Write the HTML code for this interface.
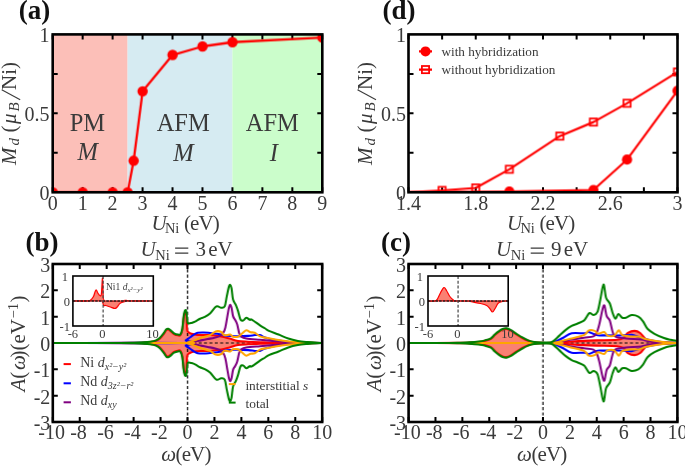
<!DOCTYPE html><html><head><meta charset="utf-8"><style>html,body{margin:0;padding:0;background:#fff;}svg{display:block;will-change:transform;}</style></head><body>
<svg width="685" height="467" viewBox="0 0 685 467">
<rect x="52.7" y="34.4" width="74.89" height="157.9" fill="#fcbfb8"/>
<rect x="127.59" y="34.4" width="104.84" height="157.9" fill="#d6ebf2"/>
<rect x="232.43" y="34.4" width="89.87" height="157.9" fill="#cbfdcb"/>
<path d="M52.7,192.3v-5M52.7,34.4v5M82.66,192.3v-5M82.66,34.4v5M112.61,192.3v-5M112.61,34.4v5M142.57,192.3v-5M142.57,34.4v5M172.52,192.3v-5M172.52,34.4v5M202.48,192.3v-5M202.48,34.4v5M232.43,192.3v-5M232.43,34.4v5M262.39,192.3v-5M262.39,34.4v5M292.34,192.3v-5M292.34,34.4v5M322.3,192.3v-5M322.3,34.4v5M52.7,152.83h5M322.3,152.83h-5M52.7,113.35h5M322.3,113.35h-5M52.7,73.88h5M322.3,73.88h-5" stroke="#000" stroke-width="2.0" fill="none"/>
<svg x="52.7" y="34.4" width="269.6" height="157.9" overflow="hidden">
<g transform="translate(-52.7,-34.4)">
<polyline points="52.7,192.3 82.66,192.3 112.61,192.3 127.59,192.3 133.58,160.72 142.57,91.24 172.52,54.93 202.48,46.4 232.43,42.14 322.3,37.56" fill="none" stroke="#f00" stroke-width="2.3" stroke-linejoin="round"/>
<circle cx="52.7" cy="192.3" r="5.2" fill="#f00"/>
<circle cx="82.66" cy="192.3" r="5.2" fill="#f00"/>
<circle cx="112.61" cy="192.3" r="5.2" fill="#f00"/>
<circle cx="127.59" cy="192.3" r="5.2" fill="#f00"/>
<circle cx="133.58" cy="160.72" r="5.2" fill="#f00"/>
<circle cx="142.57" cy="91.24" r="5.2" fill="#f00"/>
<circle cx="172.52" cy="54.93" r="5.2" fill="#f00"/>
<circle cx="202.48" cy="46.4" r="5.2" fill="#f00"/>
<circle cx="232.43" cy="42.14" r="5.2" fill="#f00"/>
<circle cx="322.3" cy="37.56" r="5.2" fill="#f00"/>
</g></svg>
<rect x="52.7" y="34.4" width="269.6" height="157.9" fill="none" stroke="#000" stroke-width="2.6"/>
<text x="52.7" y="209.7" font-size="20" text-anchor="middle" fill="#3a3a3a" font-family='"Liberation Serif", serif' >0</text>
<text x="82.66" y="209.7" font-size="20" text-anchor="middle" fill="#3a3a3a" font-family='"Liberation Serif", serif' >1</text>
<text x="112.61" y="209.7" font-size="20" text-anchor="middle" fill="#3a3a3a" font-family='"Liberation Serif", serif' >2</text>
<text x="142.57" y="209.7" font-size="20" text-anchor="middle" fill="#3a3a3a" font-family='"Liberation Serif", serif' >3</text>
<text x="172.52" y="209.7" font-size="20" text-anchor="middle" fill="#3a3a3a" font-family='"Liberation Serif", serif' >4</text>
<text x="202.48" y="209.7" font-size="20" text-anchor="middle" fill="#3a3a3a" font-family='"Liberation Serif", serif' >5</text>
<text x="232.43" y="209.7" font-size="20" text-anchor="middle" fill="#3a3a3a" font-family='"Liberation Serif", serif' >6</text>
<text x="262.39" y="209.7" font-size="20" text-anchor="middle" fill="#3a3a3a" font-family='"Liberation Serif", serif' >7</text>
<text x="292.34" y="209.7" font-size="20" text-anchor="middle" fill="#3a3a3a" font-family='"Liberation Serif", serif' >8</text>
<text x="322.3" y="209.7" font-size="20" text-anchor="middle" fill="#3a3a3a" font-family='"Liberation Serif", serif' >9</text>
<text x="49.5" y="200.3" font-size="20" text-anchor="end" fill="#3a3a3a" font-family='"Liberation Serif", serif' >0</text>
<text x="49.5" y="121.35" font-size="20" text-anchor="end" fill="#3a3a3a" font-family='"Liberation Serif", serif' >0.5</text>
<text x="49.5" y="42.4" font-size="20" text-anchor="end" fill="#3a3a3a" font-family='"Liberation Serif", serif' >1</text>
<text x="87.4" y="130.8" font-size="24.5" text-anchor="middle" fill="#3a3a3a" font-family='"Liberation Serif", serif' >PM</text>
<text x="87.6" y="160.4" font-size="24.5" text-anchor="middle" fill="#3a3a3a" font-family='"Liberation Serif", serif' font-style="italic">M</text>
<text x="183.2" y="130.8" font-size="24.5" text-anchor="middle" fill="#3a3a3a" font-family='"Liberation Serif", serif' >AFM</text>
<text x="183.4" y="160.6" font-size="24.5" text-anchor="middle" fill="#3a3a3a" font-family='"Liberation Serif", serif' font-style="italic">M</text>
<text x="272.3" y="130.8" font-size="24.5" text-anchor="middle" fill="#3a3a3a" font-family='"Liberation Serif", serif' >AFM</text>
<text x="273.9" y="160.6" font-size="24.5" text-anchor="middle" fill="#3a3a3a" font-family='"Liberation Serif", serif' font-style="italic">I</text>
<text x="151.5" y="230.2" font-size="21" text-anchor="start" fill="#3a3a3a" font-family='"Liberation Serif", serif' font-style="italic">U</text>
<text x="164.9" y="233.4" font-size="14.5" text-anchor="start" fill="#3a3a3a" font-family='"Liberation Serif", serif' >Ni</text>
<text x="184" y="230.2" font-size="21" text-anchor="start" fill="#3a3a3a" font-family='"Liberation Serif", serif' ><tspan letter-spacing="-0.9">(eV</tspan>)</text>
<g transform="translate(16.3,0) rotate(-90)" fill="#3a3a3a" font-family='"Liberation Serif", serif'>
<text x="-165" y="0" font-size="21" font-style="italic">M</text>
<text x="-145.5" y="2.6" font-size="15" font-style="italic">d</text>
<text x="-132.6" y="0" font-size="21">(</text>
<text x="-124" y="0" font-size="21" font-style="italic">μ</text>
<text x="-111.6" y="2.6" font-size="15" font-style="italic">B</text>
<text x="-90" y="0" font-size="21">Ni)</text>
</g>
<path d="M20.2,99.8L1.7,89.7" stroke="#3a3a3a" stroke-width="1.05"/>
<text x="34.4" y="18.6" font-size="27" text-anchor="middle" fill="#111" font-family='"Liberation Serif", serif' font-weight="bold">(a)</text>
<path d="M408.5,192.3v-5M408.5,34.4v5M442.12,192.3v-5M442.12,34.4v5M475.75,192.3v-5M475.75,34.4v5M509.38,192.3v-5M509.38,34.4v5M543,192.3v-5M543,34.4v5M576.62,192.3v-5M576.62,34.4v5M610.25,192.3v-5M610.25,34.4v5M643.88,192.3v-5M643.88,34.4v5M677.5,192.3v-5M677.5,34.4v5M408.5,152.83h5M677.5,152.83h-5M408.5,113.35h5M677.5,113.35h-5M408.5,73.88h5M677.5,73.88h-5" stroke="#000" stroke-width="2.0" fill="none"/>
<svg x="408.5" y="34.4" width="269" height="157.9" overflow="hidden">
<g transform="translate(-408.5,-34.4)">
<polyline points="408.5,192.3 509.38,191.51 593.44,189.93 627.06,159.61 677.5,90.77" fill="none" stroke="#f00" stroke-width="2.2" stroke-linejoin="round"/>
<polyline points="408.5,192.3 442.12,190.41 475.75,187.88 509.38,169.25 559.81,136.09 593.44,122.03 627.06,103.24 677.5,71.98" fill="none" stroke="#f00" stroke-width="2.2" stroke-linejoin="round"/>
<circle cx="509.38" cy="191.51" r="5.1" fill="#f00"/>
<circle cx="593.44" cy="189.93" r="5.1" fill="#f00"/>
<circle cx="627.06" cy="159.61" r="5.1" fill="#f00"/>
<circle cx="677.5" cy="90.77" r="5.1" fill="#f00"/>
<rect x="438.52" y="186.81" width="7.2" height="7.2" fill="none" stroke="#f00" stroke-width="1.75"/>
<rect x="472.15" y="184.28" width="7.2" height="7.2" fill="none" stroke="#f00" stroke-width="1.75"/>
<rect x="505.77" y="165.65" width="7.2" height="7.2" fill="none" stroke="#f00" stroke-width="1.75"/>
<rect x="556.21" y="132.49" width="7.2" height="7.2" fill="none" stroke="#f00" stroke-width="1.75"/>
<rect x="589.84" y="118.43" width="7.2" height="7.2" fill="none" stroke="#f00" stroke-width="1.75"/>
<rect x="623.46" y="99.64" width="7.2" height="7.2" fill="none" stroke="#f00" stroke-width="1.75"/>
<rect x="673.9" y="68.38" width="7.2" height="7.2" fill="none" stroke="#f00" stroke-width="1.75"/>
</g></svg>
<rect x="408.5" y="34.4" width="269" height="157.9" fill="none" stroke="#000" stroke-width="2.6"/>
<text x="408.5" y="209.7" font-size="20" text-anchor="middle" fill="#3a3a3a" font-family='"Liberation Serif", serif' >1.4</text>
<text x="475.75" y="209.7" font-size="20" text-anchor="middle" fill="#3a3a3a" font-family='"Liberation Serif", serif' >1.8</text>
<text x="543" y="209.7" font-size="20" text-anchor="middle" fill="#3a3a3a" font-family='"Liberation Serif", serif' >2.2</text>
<text x="610.25" y="209.7" font-size="20" text-anchor="middle" fill="#3a3a3a" font-family='"Liberation Serif", serif' >2.6</text>
<text x="677.5" y="209.7" font-size="20" text-anchor="middle" fill="#3a3a3a" font-family='"Liberation Serif", serif' >3</text>
<text x="406" y="200.3" font-size="20" text-anchor="end" fill="#3a3a3a" font-family='"Liberation Serif", serif' >0</text>
<text x="406" y="121.35" font-size="20" text-anchor="end" fill="#3a3a3a" font-family='"Liberation Serif", serif' >0.5</text>
<text x="406" y="42.4" font-size="20" text-anchor="end" fill="#3a3a3a" font-family='"Liberation Serif", serif' >1</text>
<path d="M419,51.4h13M419,69.6h13" stroke="#f00" stroke-width="2.2"/>
<circle cx="425.5" cy="51.4" r="5" fill="#f00"/>
<rect x="421.9" y="66" width="7.2" height="7.2" fill="none" stroke="#f00" stroke-width="1.75"/>
<text x="441.5" y="55.6" font-size="13.2" text-anchor="start" fill="#3a3a3a" font-family='"Liberation Serif", serif' >with hybridization</text>
<text x="441.5" y="73.6" font-size="13.2" text-anchor="start" fill="#3a3a3a" font-family='"Liberation Serif", serif' >without hybridization</text>
<text x="507" y="230.2" font-size="21" text-anchor="start" fill="#3a3a3a" font-family='"Liberation Serif", serif' font-style="italic">U</text>
<text x="520.4" y="233.4" font-size="14.5" text-anchor="start" fill="#3a3a3a" font-family='"Liberation Serif", serif' >Ni</text>
<text x="539.5" y="230.2" font-size="21" text-anchor="start" fill="#3a3a3a" font-family='"Liberation Serif", serif' ><tspan letter-spacing="-0.9">(eV</tspan>)</text>
<g transform="translate(372.1,0) rotate(-90)" fill="#3a3a3a" font-family='"Liberation Serif", serif'>
<text x="-165" y="0" font-size="21" font-style="italic">M</text>
<text x="-145.5" y="2.6" font-size="15" font-style="italic">d</text>
<text x="-132.6" y="0" font-size="21">(</text>
<text x="-124" y="0" font-size="21" font-style="italic">μ</text>
<text x="-111.6" y="2.6" font-size="15" font-style="italic">B</text>
<text x="-90" y="0" font-size="21">Ni)</text>
</g>
<path d="M376,99.8L357.5,89.7" stroke="#3a3a3a" stroke-width="1.05"/>
<text x="398.9" y="18.6" font-size="27" text-anchor="middle" fill="#111" font-family='"Liberation Serif", serif' font-weight="bold">(d)</text>
<path d="M52.8,422v-5M52.8,264v5M79.74,422v-5M79.74,264v5M106.68,422v-5M106.68,264v5M133.62,422v-5M133.62,264v5M160.56,422v-5M160.56,264v5M187.5,422v-5M187.5,264v5M214.44,422v-5M214.44,264v5M241.38,422v-5M241.38,264v5M268.32,422v-5M268.32,264v5M295.26,422v-5M295.26,264v5M322.2,422v-5M322.2,264v5M52.8,422h5M322.2,422h-5M52.8,395.67h5M322.2,395.67h-5M52.8,369.33h5M322.2,369.33h-5M52.8,343h5M322.2,343h-5M52.8,316.67h5M322.2,316.67h-5M52.8,290.33h5M322.2,290.33h-5M52.8,264h5M322.2,264h-5" stroke="#000" stroke-width="2.0" fill="none"/>
<svg x="52.8" y="264" width="269.4" height="158" overflow="hidden">
<g transform="translate(-52.8,-264)">
<path d="M52.8,343C66.27,342.98 118.58,342.93 133.62,342.87C148.66,342.8 140.31,342.74 143.05,342.61C145.79,342.47 147.92,342.36 150.05,342.08C152.19,341.79 154.25,341.44 155.85,340.89C157.44,340.34 158.34,339.93 159.62,338.79C160.9,337.65 162.4,335.5 163.52,334.05C164.65,332.6 165.57,330.84 166.35,330.1C167.14,329.35 167.52,329.39 168.24,329.57C168.96,329.75 169.7,330.4 170.66,331.15C171.63,331.9 172.82,333.34 174.03,334.05C175.24,334.75 176.88,335.19 177.94,335.36C178.99,335.54 179.64,336.02 180.36,335.1C181.08,334.18 181.69,332.91 182.25,329.83C182.81,326.76 183.23,319.74 183.73,316.67C184.22,313.59 184.76,311.4 185.21,311.4C185.66,311.4 186.11,313.59 186.42,316.67C186.74,319.74 186.74,327.24 187.1,329.83C187.46,332.42 187.86,331.54 188.58,332.2C189.3,332.86 190.33,333.39 191.41,333.78C192.48,334.18 193.61,334.35 195.04,334.57C196.48,334.79 197.54,335.01 200.03,335.1C202.52,335.19 206.47,334.88 209.99,335.1C213.52,335.32 217.92,335.85 221.18,336.42C224.43,336.99 226.74,337.78 229.53,338.52C232.31,339.27 234.78,340.37 237.88,340.89C240.98,341.42 244.16,341.46 248.11,341.68C252.07,341.9 257.09,342.06 261.58,342.21C266.07,342.36 269.44,342.5 275.05,342.61C280.67,342.71 287.4,342.8 295.26,342.87C303.12,342.93 317.71,342.98 322.2,343L322.2,343C317.71,343.02 303.12,343.07 295.26,343.13C287.4,343.2 280.67,343.29 275.05,343.39C269.44,343.5 266.07,343.64 261.58,343.79C257.09,343.94 252.07,344.1 248.11,344.32C244.16,344.54 240.98,344.58 237.88,345.11C234.78,345.63 232.31,346.73 229.53,347.48C226.74,348.22 224.43,349.01 221.18,349.58C217.92,350.15 213.52,350.68 209.99,350.9C206.47,351.12 202.52,350.81 200.03,350.9C197.54,350.99 196.48,351.21 195.04,351.43C193.61,351.65 192.48,351.82 191.41,352.22C190.33,352.61 189.3,353.14 188.58,353.8C187.86,354.45 187.46,353.58 187.1,356.17C186.74,358.76 186.74,366.26 186.42,369.33C186.11,372.41 185.66,374.6 185.21,374.6C184.76,374.6 184.22,372.41 183.73,369.33C183.23,366.26 182.81,359.24 182.25,356.17C181.69,353.09 181.08,351.82 180.36,350.9C179.64,349.98 178.99,350.46 177.94,350.64C176.88,350.81 175.24,351.25 174.03,351.95C172.82,352.66 171.63,354.1 170.66,354.85C169.7,355.6 168.96,356.25 168.24,356.43C167.52,356.61 167.14,356.65 166.35,355.9C165.57,355.16 164.65,353.4 163.52,351.95C162.4,350.5 160.9,348.35 159.62,347.21C158.34,346.07 157.44,345.66 155.85,345.11C154.25,344.56 152.19,344.21 150.05,343.92C147.92,343.64 145.79,343.53 143.05,343.39C140.31,343.26 148.66,343.2 133.62,343.13C118.58,343.07 66.27,343.02 52.8,343Z" fill="#fa8072" stroke="none"/>
<path d="M52.8,343H322.2" stroke="#000" stroke-width="1.2" stroke-dasharray="3,2.4"/>
<path d="M187.5,264V422" stroke="#000" stroke-width="1.2" stroke-dasharray="3.2,2.1"/>
<path d="M52.8,343C66.27,342.98 118.58,342.93 133.62,342.87C148.66,342.8 140.31,342.74 143.05,342.61C145.79,342.47 147.92,342.36 150.05,342.08C152.19,341.79 154.25,341.44 155.85,340.89C157.44,340.34 158.34,339.93 159.62,338.79C160.9,337.65 162.4,335.5 163.52,334.05C164.65,332.6 165.57,330.84 166.35,330.1C167.14,329.35 167.52,329.39 168.24,329.57C168.96,329.75 169.7,330.4 170.66,331.15C171.63,331.9 172.82,333.34 174.03,334.05C175.24,334.75 176.88,335.19 177.94,335.36C178.99,335.54 179.64,336.02 180.36,335.1C181.08,334.18 181.69,332.91 182.25,329.83C182.81,326.76 183.23,319.74 183.73,316.67C184.22,313.59 184.76,311.4 185.21,311.4C185.66,311.4 186.11,313.59 186.42,316.67C186.74,319.74 186.74,327.24 187.1,329.83C187.46,332.42 187.86,331.54 188.58,332.2C189.3,332.86 190.33,333.39 191.41,333.78C192.48,334.18 193.61,334.35 195.04,334.57C196.48,334.79 197.54,335.01 200.03,335.1C202.52,335.19 206.47,334.88 209.99,335.1C213.52,335.32 217.92,335.85 221.18,336.42C224.43,336.99 226.74,337.78 229.53,338.52C232.31,339.27 234.78,340.37 237.88,340.89C240.98,341.42 244.16,341.46 248.11,341.68C252.07,341.9 257.09,342.06 261.58,342.21C266.07,342.36 269.44,342.5 275.05,342.61C280.67,342.71 287.4,342.8 295.26,342.87C303.12,342.93 317.71,342.98 322.2,343" fill="none" stroke="#f00" stroke-width="2.05" stroke-linejoin="round"/>
<path d="M52.8,343C66.27,343.02 118.58,343.07 133.62,343.13C148.66,343.2 140.31,343.26 143.05,343.39C145.79,343.53 147.92,343.64 150.05,343.92C152.19,344.21 154.25,344.56 155.85,345.11C157.44,345.66 158.34,346.07 159.62,347.21C160.9,348.35 162.4,350.5 163.52,351.95C164.65,353.4 165.57,355.16 166.35,355.9C167.14,356.65 167.52,356.61 168.24,356.43C168.96,356.25 169.7,355.6 170.66,354.85C171.63,354.1 172.82,352.66 174.03,351.95C175.24,351.25 176.88,350.81 177.94,350.64C178.99,350.46 179.64,349.98 180.36,350.9C181.08,351.82 181.69,353.09 182.25,356.17C182.81,359.24 183.23,366.26 183.73,369.33C184.22,372.41 184.76,374.6 185.21,374.6C185.66,374.6 186.11,372.41 186.42,369.33C186.74,366.26 186.74,358.76 187.1,356.17C187.46,353.58 187.86,354.45 188.58,353.8C189.3,353.14 190.33,352.61 191.41,352.22C192.48,351.82 193.61,351.65 195.04,351.43C196.48,351.21 197.54,350.99 200.03,350.9C202.52,350.81 206.47,351.12 209.99,350.9C213.52,350.68 217.92,350.15 221.18,349.58C224.43,349.01 226.74,348.22 229.53,347.48C232.31,346.73 234.78,345.63 237.88,345.11C240.98,344.58 244.16,344.54 248.11,344.32C252.07,344.1 257.09,343.94 261.58,343.79C266.07,343.64 269.44,343.5 275.05,343.39C280.67,343.29 287.4,343.2 295.26,343.13C303.12,343.07 317.71,343.02 322.2,343" fill="none" stroke="#f00" stroke-width="2.05" stroke-linejoin="round"/>
<path d="M52.8,343C74.58,343 161.3,343.44 183.46,343C205.62,342.56 184.63,341.33 185.75,340.37C186.87,339.4 188.78,338.22 190.19,337.21C191.61,336.2 192.98,335.06 194.24,334.31C195.49,333.56 196.17,333.04 197.74,332.73C199.31,332.42 201.62,332.42 203.66,332.47C205.71,332.51 207.75,332.77 209.99,332.99C212.24,333.21 215.27,333.52 217.13,333.78C219,334.05 219.65,334.27 221.18,334.57C222.7,334.88 224.05,335.36 226.29,335.63C228.54,335.89 231.01,336.11 234.64,336.15C238.28,336.2 244.75,336.07 248.11,335.89C251.48,335.71 252.87,335.23 254.85,335.1C256.83,334.97 258.4,334.75 259.97,335.1C261.54,335.45 261.72,336.37 264.28,337.21C266.84,338.04 271.51,339.36 275.32,340.1C279.14,340.85 282.73,341.29 287.18,341.68C291.62,342.08 297.28,342.28 302,342.47C306.71,342.67 312.1,342.78 315.46,342.87C318.83,342.96 321.08,342.98 322.2,343" fill="none" stroke="#0000ff" stroke-width="2.05" stroke-linejoin="round"/>
<path d="M52.8,343C74.58,343 161.3,342.56 183.46,343C205.62,343.44 184.63,344.67 185.75,345.63C186.87,346.6 188.78,347.78 190.19,348.79C191.61,349.8 192.98,350.94 194.24,351.69C195.49,352.44 196.17,352.96 197.74,353.27C199.31,353.58 201.62,353.58 203.66,353.53C205.71,353.49 207.75,353.23 209.99,353.01C212.24,352.79 215.27,352.48 217.13,352.22C219,351.95 219.65,351.73 221.18,351.43C222.7,351.12 224.05,350.64 226.29,350.37C228.54,350.11 231.01,349.89 234.64,349.85C238.28,349.8 244.75,349.93 248.11,350.11C251.48,350.29 252.87,350.77 254.85,350.9C256.83,351.03 258.4,351.25 259.97,350.9C261.54,350.55 261.72,349.63 264.28,348.79C266.84,347.96 271.51,346.64 275.32,345.9C279.14,345.15 282.73,344.71 287.18,344.32C291.62,343.92 297.28,343.72 302,343.53C306.71,343.33 312.1,343.22 315.46,343.13C318.83,343.04 321.08,343.02 322.2,343" fill="none" stroke="#0000ff" stroke-width="2.05" stroke-linejoin="round"/>
<path d="M52.8,343C74.58,343 161.01,343.04 183.46,343C205.91,342.96 185.7,342.96 187.5,342.74C189.3,342.52 191.99,342.08 194.24,341.68C196.48,341.29 198.72,340.81 200.97,340.37C203.21,339.93 205.46,339.49 207.7,339.05C209.95,338.61 212.49,338.22 214.44,337.73C216.39,337.25 217.96,336.94 219.42,336.15C220.88,335.36 222.21,334.44 223.2,332.99C224.18,331.55 224.65,330.27 225.35,327.46C226.05,324.65 226.79,319.39 227.37,316.14C227.95,312.89 228.38,309.86 228.85,307.98C229.32,306.09 229.75,304.82 230.2,304.82C230.65,304.82 231.08,306.09 231.55,307.98C232.02,309.86 232.44,314.16 233.03,316.14C233.61,318.12 234.35,318.42 235.05,319.83C235.75,321.23 236.51,322.28 237.2,324.57C237.9,326.85 238.55,331.5 239.22,333.52C239.9,335.54 240.08,335.85 241.25,336.68C242.41,337.51 243.11,338 246.23,338.52C249.35,339.05 255.61,339.45 259.97,339.84C264.32,340.24 267.83,340.54 272.36,340.89C276.9,341.24 282.24,341.66 287.18,341.95C292.12,342.23 297.28,342.44 302,342.61C306.71,342.77 312.1,342.86 315.46,342.92C318.83,342.99 321.08,342.99 322.2,343" fill="none" stroke="#800080" stroke-width="2.05" stroke-linejoin="round"/>
<path d="M52.8,343C74.58,343 161.01,342.96 183.46,343C205.91,343.04 185.7,343.04 187.5,343.26C189.3,343.48 191.99,343.92 194.24,344.32C196.48,344.71 198.72,345.19 200.97,345.63C203.21,346.07 205.46,346.51 207.7,346.95C209.95,347.39 212.49,347.78 214.44,348.27C216.39,348.75 217.96,349.06 219.42,349.85C220.88,350.64 222.21,351.56 223.2,353.01C224.18,354.45 224.65,355.73 225.35,358.54C226.05,361.35 226.79,366.61 227.37,369.86C227.95,373.11 228.38,376.14 228.85,378.02C229.32,379.91 229.75,381.18 230.2,381.18C230.65,381.18 231.08,379.91 231.55,378.02C232.02,376.14 232.44,371.84 233.03,369.86C233.61,367.88 234.35,367.58 235.05,366.17C235.75,364.77 236.51,363.72 237.2,361.43C237.9,359.15 238.55,354.5 239.22,352.48C239.9,350.46 240.08,350.15 241.25,349.32C242.41,348.49 243.11,348 246.23,347.48C249.35,346.95 255.61,346.55 259.97,346.16C264.32,345.76 267.83,345.46 272.36,345.11C276.9,344.76 282.24,344.34 287.18,344.05C292.12,343.77 297.28,343.56 302,343.39C306.71,343.23 312.1,343.14 315.46,343.08C318.83,343.01 321.08,343.01 322.2,343" fill="none" stroke="#800080" stroke-width="2.05" stroke-linejoin="round"/>
<path d="M52.8,343C74.58,343 161.01,343.09 183.46,343C205.91,342.91 185.7,342.91 187.5,342.47C189.3,342.03 191.99,341.16 194.24,340.37C196.48,339.58 198.34,338.61 200.97,337.73C203.6,336.86 207.55,336.15 209.99,335.1C212.44,334.05 213.77,331.94 215.65,331.41C217.54,330.89 219.94,331.33 221.31,331.94C222.68,332.55 222.88,334.57 223.87,335.1C224.86,335.63 226.18,335.19 227.24,335.1C228.29,335.01 229.23,334.31 230.2,334.57C231.17,334.84 231.75,336.33 233.03,336.68C234.31,337.03 236.37,337.21 237.88,336.68C239.38,336.15 240.66,334.57 242.05,333.52C243.45,332.47 244.81,330.58 246.23,330.36C247.64,330.14 249.13,331.81 250.54,332.2C251.95,332.6 253.14,332.03 254.72,332.73C256.29,333.43 258.15,335.58 259.97,336.42C261.79,337.25 263.07,337.21 265.63,337.73C268.19,338.26 271.73,339.01 275.32,339.58C278.92,340.15 282.73,340.72 287.18,341.16C291.62,341.6 297.28,341.92 302,342.21C306.71,342.5 312.1,342.74 315.46,342.87C318.83,343 321.08,342.98 322.2,343" fill="none" stroke="#ffa500" stroke-width="2.05" stroke-linejoin="round"/>
<path d="M52.8,343C74.58,343 161.01,342.91 183.46,343C205.91,343.09 185.7,343.09 187.5,343.53C189.3,343.97 191.99,344.84 194.24,345.63C196.48,346.42 198.34,347.39 200.97,348.27C203.6,349.14 207.55,349.85 209.99,350.9C212.44,351.95 213.77,354.06 215.65,354.59C217.54,355.11 219.94,354.67 221.31,354.06C222.68,353.45 222.88,351.43 223.87,350.9C224.86,350.37 226.18,350.81 227.24,350.9C228.29,350.99 229.23,351.69 230.2,351.43C231.17,351.16 231.75,349.67 233.03,349.32C234.31,348.97 236.37,348.79 237.88,349.32C239.38,349.85 240.66,351.43 242.05,352.48C243.45,353.53 244.81,355.42 246.23,355.64C247.64,355.86 249.13,354.19 250.54,353.8C251.95,353.4 253.14,353.97 254.72,353.27C256.29,352.57 258.15,350.42 259.97,349.58C261.79,348.75 263.07,348.79 265.63,348.27C268.19,347.74 271.73,346.99 275.32,346.42C278.92,345.85 282.73,345.28 287.18,344.84C291.62,344.4 297.28,344.08 302,343.79C306.71,343.5 312.1,343.26 315.46,343.13C318.83,343 321.08,343.02 322.2,343" fill="none" stroke="#ffa500" stroke-width="2.05" stroke-linejoin="round"/>
<path d="M52.8,343C64.02,343 106.68,343.04 120.15,343C133.62,342.96 129.8,342.9 133.62,342.79C137.44,342.68 140.31,342.53 143.05,342.34C145.79,342.16 147.92,342.01 150.05,341.68C152.19,341.35 154.25,340.98 155.85,340.37C157.44,339.75 158.34,339.18 159.62,338C160.9,336.81 162.4,334.7 163.52,333.26C164.65,331.81 165.57,330.05 166.35,329.31C167.14,328.56 167.52,328.6 168.24,328.78C168.96,328.96 169.7,329.61 170.66,330.36C171.63,331.11 172.82,332.55 174.03,333.26C175.24,333.96 176.88,334.4 177.94,334.57C178.99,334.75 179.64,335.28 180.36,334.31C181.08,333.34 181.69,331.94 182.25,328.78C182.81,325.62 183.23,318.47 183.73,315.35C184.22,312.23 184.76,310.57 185.21,310.08C185.66,309.6 186.04,310.43 186.42,312.45C186.8,314.47 187.14,320.35 187.5,322.2C187.86,324.04 187.93,323.38 188.58,323.51C189.23,323.64 190.33,323.29 191.41,322.99C192.48,322.68 193.61,322.37 195.04,321.67C196.48,320.97 198.52,319.52 200.03,318.77C201.53,318.03 202.41,318.07 204.07,317.19C205.73,316.32 207.95,315.31 209.99,313.51C212.04,311.71 214.48,307.36 216.33,306.4C218.17,305.43 219.65,307.71 221.04,307.71C222.43,307.71 223.73,308.24 224.68,306.4C225.62,304.55 226,299.9 226.7,296.65C227.39,293.41 228.27,288.88 228.85,286.91C229.44,284.93 229.75,284.54 230.2,284.8C230.65,285.07 231.08,286.03 231.55,288.49C232.02,290.95 232.31,296.79 233.03,299.55C233.75,302.31 235.05,303.24 235.86,305.08C236.67,306.92 237.09,308.15 237.88,310.61C238.66,313.07 239.65,318.2 240.57,319.83C241.49,321.45 242.46,320.7 243.4,320.35C244.34,320 245.17,317.81 246.23,317.72C247.28,317.63 248.81,319.52 249.73,319.83C250.65,320.13 250.05,318.64 251.75,319.56C253.46,320.49 257.79,323.91 259.97,325.36C262.15,326.81 263.34,327.33 264.82,328.25C266.3,329.18 266.57,329.83 268.86,330.89C271.15,331.94 275.32,333.3 278.56,334.57C281.79,335.85 285.05,337.47 288.26,338.52C291.47,339.58 294.61,340.3 297.82,340.89C301.03,341.49 304.35,341.76 307.52,342.08C310.68,342.39 314.36,342.64 316.81,342.79C319.26,342.94 321.3,342.96 322.2,343" fill="none" stroke="#008000" stroke-width="2.05" stroke-linejoin="round"/>
<path d="M52.8,343C64.02,343 106.68,342.96 120.15,343C133.62,343.04 129.8,343.1 133.62,343.21C137.44,343.32 140.31,343.47 143.05,343.66C145.79,343.84 147.92,343.99 150.05,344.32C152.19,344.65 154.25,345.02 155.85,345.63C157.44,346.25 158.34,346.82 159.62,348C160.9,349.19 162.4,351.3 163.52,352.74C164.65,354.19 165.57,355.95 166.35,356.69C167.14,357.44 167.52,357.4 168.24,357.22C168.96,357.04 169.7,356.39 170.66,355.64C171.63,354.89 172.82,353.45 174.03,352.74C175.24,352.04 176.88,351.6 177.94,351.43C178.99,351.25 179.64,350.72 180.36,351.69C181.08,352.66 181.69,354.06 182.25,357.22C182.81,360.38 183.23,367.53 183.73,370.65C184.22,373.77 184.76,375.43 185.21,375.92C185.66,376.4 186.04,375.57 186.42,373.55C186.8,371.53 187.14,365.65 187.5,363.8C187.86,361.96 187.93,362.62 188.58,362.49C189.23,362.36 190.33,362.71 191.41,363.01C192.48,363.32 193.61,363.63 195.04,364.33C196.48,365.03 198.52,366.48 200.03,367.23C201.53,367.97 202.41,367.93 204.07,368.81C205.73,369.68 207.95,370.69 209.99,372.49C212.04,374.29 214.48,378.64 216.33,379.6C218.17,380.57 219.65,378.29 221.04,378.29C222.43,378.29 223.73,377.76 224.68,379.6C225.62,381.45 226,386.1 226.7,389.35C227.39,392.59 228.27,397.12 228.85,399.09C229.44,401.06 229.75,401.46 230.2,401.2C230.65,400.93 231.08,399.97 231.55,397.51C232.02,395.05 232.31,389.21 233.03,386.45C233.75,383.69 235.05,382.76 235.86,380.92C236.67,379.08 237.09,377.85 237.88,375.39C238.66,372.93 239.65,367.8 240.57,366.17C241.49,364.55 242.46,365.3 243.4,365.65C244.34,366 245.17,368.19 246.23,368.28C247.28,368.37 248.81,366.48 249.73,366.17C250.65,365.87 250.05,367.36 251.75,366.44C253.46,365.51 257.79,362.09 259.97,360.64C262.15,359.19 263.34,358.67 264.82,357.75C266.3,356.82 266.57,356.17 268.86,355.11C271.15,354.06 275.32,352.7 278.56,351.43C281.79,350.15 285.05,348.53 288.26,347.48C291.47,346.42 294.61,345.7 297.82,345.11C301.03,344.51 304.35,344.24 307.52,343.92C310.68,343.61 314.36,343.36 316.81,343.21C319.26,343.06 321.3,343.04 322.2,343" fill="none" stroke="#008000" stroke-width="2.05" stroke-linejoin="round"/>
</g></svg>
<rect x="52.8" y="264" width="269.4" height="158" fill="none" stroke="#000" stroke-width="2.6"/>
<text x="51.6" y="439" font-size="20" text-anchor="middle" fill="#3a3a3a" font-family='"Liberation Serif", serif' >-10</text>
<text x="78.54" y="439" font-size="20" text-anchor="middle" fill="#3a3a3a" font-family='"Liberation Serif", serif' >-8</text>
<text x="105.48" y="439" font-size="20" text-anchor="middle" fill="#3a3a3a" font-family='"Liberation Serif", serif' >-6</text>
<text x="132.42" y="439" font-size="20" text-anchor="middle" fill="#3a3a3a" font-family='"Liberation Serif", serif' >-4</text>
<text x="159.36" y="439" font-size="20" text-anchor="middle" fill="#3a3a3a" font-family='"Liberation Serif", serif' >-2</text>
<text x="187.5" y="439" font-size="20" text-anchor="middle" fill="#3a3a3a" font-family='"Liberation Serif", serif' >0</text>
<text x="214.44" y="439" font-size="20" text-anchor="middle" fill="#3a3a3a" font-family='"Liberation Serif", serif' >2</text>
<text x="241.38" y="439" font-size="20" text-anchor="middle" fill="#3a3a3a" font-family='"Liberation Serif", serif' >4</text>
<text x="268.32" y="439" font-size="20" text-anchor="middle" fill="#3a3a3a" font-family='"Liberation Serif", serif' >6</text>
<text x="295.26" y="439" font-size="20" text-anchor="middle" fill="#3a3a3a" font-family='"Liberation Serif", serif' >8</text>
<text x="322.2" y="439" font-size="20" text-anchor="middle" fill="#3a3a3a" font-family='"Liberation Serif", serif' >10</text>
<text x="50.3" y="430" font-size="20" text-anchor="end" fill="#3a3a3a" font-family='"Liberation Serif", serif' >-3</text>
<text x="50.3" y="403.67" font-size="20" text-anchor="end" fill="#3a3a3a" font-family='"Liberation Serif", serif' >-2</text>
<text x="50.3" y="377.33" font-size="20" text-anchor="end" fill="#3a3a3a" font-family='"Liberation Serif", serif' >-1</text>
<text x="50.3" y="351" font-size="20" text-anchor="end" fill="#3a3a3a" font-family='"Liberation Serif", serif' >0</text>
<text x="50.3" y="324.67" font-size="20" text-anchor="end" fill="#3a3a3a" font-family='"Liberation Serif", serif' >1</text>
<text x="50.3" y="298.33" font-size="20" text-anchor="end" fill="#3a3a3a" font-family='"Liberation Serif", serif' >2</text>
<text x="50.3" y="272" font-size="20" text-anchor="end" fill="#3a3a3a" font-family='"Liberation Serif", serif' >3</text>
<text x="161.2" y="461.3" font-size="21" text-anchor="start" fill="#3a3a3a" font-family='"Liberation Serif", serif' font-style="italic">ω</text>
<text x="175.6" y="461.3" font-size="21" text-anchor="start" fill="#3a3a3a" font-family='"Liberation Serif", serif' ><tspan letter-spacing="-0.9">(eV</tspan>)</text>
<path d="M408.6,422v-5M408.6,264v5M435.48,422v-5M435.48,264v5M462.36,422v-5M462.36,264v5M489.24,422v-5M489.24,264v5M516.12,422v-5M516.12,264v5M543,422v-5M543,264v5M569.88,422v-5M569.88,264v5M596.76,422v-5M596.76,264v5M623.64,422v-5M623.64,264v5M650.52,422v-5M650.52,264v5M677.4,422v-5M677.4,264v5M408.6,422h5M677.4,422h-5M408.6,395.67h5M677.4,395.67h-5M408.6,369.33h5M677.4,369.33h-5M408.6,343h5M677.4,343h-5M408.6,316.67h5M677.4,316.67h-5M408.6,290.33h5M677.4,290.33h-5M408.6,264h5M677.4,264h-5" stroke="#000" stroke-width="2.0" fill="none"/>
<svg x="408.6" y="264" width="268.8" height="158" overflow="hidden">
<g transform="translate(-408.6,-264)">
<path d="M408.6,343C417.11,342.98 449.59,342.93 459.67,342.87C469.75,342.8 465.94,342.76 469.08,342.61C472.22,342.45 475.84,342.25 478.49,341.95C481.13,341.64 482.88,341.29 484.94,340.76C487,340.24 489.22,339.73 490.85,338.79C492.49,337.84 493.45,336.24 494.75,335.1C496.05,333.96 497.35,332.86 498.65,331.94C499.95,331.02 501.22,330.07 502.55,329.57C503.87,329.07 505.26,328.78 506.58,328.91C507.9,329.04 508.84,329.46 510.48,330.36C512.11,331.26 514.42,333.04 516.39,334.31C518.36,335.58 520.33,336.92 522.3,338C524.27,339.07 526.24,340.04 528.22,340.76C530.19,341.49 531.67,341.99 534.13,342.34C536.59,342.69 540.4,342.78 543,342.87C545.6,342.96 547.48,342.91 549.72,342.87C551.96,342.82 553.08,342.8 556.44,342.61C559.8,342.41 565.4,341.97 569.88,341.68C574.36,341.4 578.84,341.11 583.32,340.89C587.8,340.67 591.16,340.54 596.76,340.37C602.36,340.19 612.44,340.28 616.92,339.84C621.4,339.4 621.83,338.87 623.64,337.73C625.45,336.59 625.99,334.13 627.81,332.99C629.62,331.85 632.47,330.89 634.53,330.89C636.59,330.89 638.4,331.72 640.17,332.99C641.94,334.27 643.42,337.12 645.14,338.52C646.87,339.93 647.38,340.74 650.52,341.42C653.66,342.1 659.48,342.34 663.96,342.61C668.44,342.87 675.16,342.93 677.4,343L677.4,343C675.16,343.07 668.44,343.13 663.96,343.39C659.48,343.66 653.66,343.9 650.52,344.58C647.38,345.26 646.87,346.07 645.14,347.48C643.42,348.88 641.94,351.73 640.17,353.01C638.4,354.28 636.59,355.11 634.53,355.11C632.47,355.11 629.62,354.15 627.81,353.01C625.99,351.87 625.45,349.41 623.64,348.27C621.83,347.13 621.4,346.6 616.92,346.16C612.44,345.72 602.36,345.81 596.76,345.63C591.16,345.46 587.8,345.33 583.32,345.11C578.84,344.89 574.36,344.6 569.88,344.32C565.4,344.03 559.8,343.59 556.44,343.39C553.08,343.2 551.96,343.18 549.72,343.13C547.48,343.09 545.6,343.04 543,343.13C540.4,343.22 536.59,343.31 534.13,343.66C531.67,344.01 530.19,344.51 528.22,345.24C526.24,345.96 524.27,346.93 522.3,348C520.33,349.08 518.36,350.42 516.39,351.69C514.42,352.96 512.11,354.74 510.48,355.64C508.84,356.54 507.9,356.96 506.58,357.09C505.26,357.22 503.87,356.93 502.55,356.43C501.22,355.93 499.95,354.98 498.65,354.06C497.35,353.14 496.05,352.04 494.75,350.9C493.45,349.76 492.49,348.16 490.85,347.21C489.22,346.27 487,345.76 484.94,345.24C482.88,344.71 481.13,344.36 478.49,344.05C475.84,343.75 472.22,343.55 469.08,343.39C465.94,343.24 469.75,343.2 459.67,343.13C449.59,343.07 417.11,343.02 408.6,343Z" fill="#fa8072" stroke="none"/>
<path d="M408.6,343H677.4" stroke="#000" stroke-width="1.2" stroke-dasharray="3,2.4"/>
<path d="M543,264V422" stroke="#000" stroke-width="1.2" stroke-dasharray="3.2,2.1"/>
<path d="M408.6,343C417.11,342.98 449.59,342.93 459.67,342.87C469.75,342.8 465.94,342.76 469.08,342.61C472.22,342.45 475.84,342.25 478.49,341.95C481.13,341.64 482.88,341.29 484.94,340.76C487,340.24 489.22,339.73 490.85,338.79C492.49,337.84 493.45,336.24 494.75,335.1C496.05,333.96 497.35,332.86 498.65,331.94C499.95,331.02 501.22,330.07 502.55,329.57C503.87,329.07 505.26,328.78 506.58,328.91C507.9,329.04 508.84,329.46 510.48,330.36C512.11,331.26 514.42,333.04 516.39,334.31C518.36,335.58 520.33,336.92 522.3,338C524.27,339.07 526.24,340.04 528.22,340.76C530.19,341.49 531.67,341.99 534.13,342.34C536.59,342.69 540.4,342.78 543,342.87C545.6,342.96 547.48,342.91 549.72,342.87C551.96,342.82 553.08,342.8 556.44,342.61C559.8,342.41 565.4,341.97 569.88,341.68C574.36,341.4 578.84,341.11 583.32,340.89C587.8,340.67 591.16,340.54 596.76,340.37C602.36,340.19 612.44,340.28 616.92,339.84C621.4,339.4 621.83,338.87 623.64,337.73C625.45,336.59 625.99,334.13 627.81,332.99C629.62,331.85 632.47,330.89 634.53,330.89C636.59,330.89 638.4,331.72 640.17,332.99C641.94,334.27 643.42,337.12 645.14,338.52C646.87,339.93 647.38,340.74 650.52,341.42C653.66,342.1 659.48,342.34 663.96,342.61C668.44,342.87 675.16,342.93 677.4,343" fill="none" stroke="#f00" stroke-width="2.05" stroke-linejoin="round"/>
<path d="M408.6,343C417.11,343.02 449.59,343.07 459.67,343.13C469.75,343.2 465.94,343.24 469.08,343.39C472.22,343.55 475.84,343.75 478.49,344.05C481.13,344.36 482.88,344.71 484.94,345.24C487,345.76 489.22,346.27 490.85,347.21C492.49,348.16 493.45,349.76 494.75,350.9C496.05,352.04 497.35,353.14 498.65,354.06C499.95,354.98 501.22,355.93 502.55,356.43C503.87,356.93 505.26,357.22 506.58,357.09C507.9,356.96 508.84,356.54 510.48,355.64C512.11,354.74 514.42,352.96 516.39,351.69C518.36,350.42 520.33,349.08 522.3,348C524.27,346.93 526.24,345.96 528.22,345.24C530.19,344.51 531.67,344.01 534.13,343.66C536.59,343.31 540.4,343.22 543,343.13C545.6,343.04 547.48,343.09 549.72,343.13C551.96,343.18 553.08,343.2 556.44,343.39C559.8,343.59 565.4,344.03 569.88,344.32C574.36,344.6 578.84,344.89 583.32,345.11C587.8,345.33 591.16,345.46 596.76,345.63C602.36,345.81 612.44,345.72 616.92,346.16C621.4,346.6 621.83,347.13 623.64,348.27C625.45,349.41 625.99,351.87 627.81,353.01C629.62,354.15 632.47,355.11 634.53,355.11C636.59,355.11 638.4,354.28 640.17,353.01C641.94,351.73 643.42,348.88 645.14,347.48C646.87,346.07 647.38,345.26 650.52,344.58C653.66,343.9 659.48,343.66 663.96,343.39C668.44,343.13 675.16,343.07 677.4,343" fill="none" stroke="#f00" stroke-width="2.05" stroke-linejoin="round"/>
<path d="M408.6,343C432.34,343 526.63,343.22 551.06,343C575.5,342.78 553.21,342.56 555.23,341.68C557.25,340.81 560.43,339.14 563.16,337.73C565.89,336.33 567.98,334 571.63,333.26C575.28,332.51 582.22,333.48 585.07,333.26C587.91,333.04 586.81,331.63 588.7,331.94C590.58,332.25 593.89,334.53 596.36,335.1C598.82,335.67 598.55,335.32 603.48,335.36C608.41,335.41 621.24,335.45 625.92,335.36C630.61,335.28 629.04,334.44 631.57,334.84C634.1,335.23 637.73,336.77 641.11,337.73C644.49,338.7 648.06,339.88 651.86,340.63C655.67,341.38 659.7,341.86 663.96,342.21C668.22,342.56 675.16,342.65 677.4,342.74" fill="none" stroke="#0000ff" stroke-width="2.05" stroke-linejoin="round"/>
<path d="M408.6,343C432.34,343 526.63,342.78 551.06,343C575.5,343.22 553.21,343.44 555.23,344.32C557.25,345.19 560.43,346.86 563.16,348.27C565.89,349.67 567.98,352 571.63,352.74C575.28,353.49 582.22,352.52 585.07,352.74C587.91,352.96 586.81,354.37 588.7,354.06C590.58,353.75 593.89,351.47 596.36,350.9C598.82,350.33 598.55,350.68 603.48,350.64C608.41,350.59 621.24,350.55 625.92,350.64C630.61,350.72 629.04,351.56 631.57,351.16C634.1,350.77 637.73,349.23 641.11,348.27C644.49,347.3 648.06,346.12 651.86,345.37C655.67,344.62 659.7,344.14 663.96,343.79C668.22,343.44 675.16,343.35 677.4,343.26" fill="none" stroke="#0000ff" stroke-width="2.05" stroke-linejoin="round"/>
<path d="M408.6,343C432.34,343 526.63,343.04 551.06,343C575.5,342.96 552.09,343.26 555.23,342.74C558.37,342.21 565.11,340.67 569.88,339.84C574.65,339.01 579.94,338.3 583.86,337.73C587.78,337.16 591.25,337.29 593.4,336.42C595.55,335.54 595.77,334.49 596.76,332.47C597.75,330.45 598.15,328.82 599.31,324.3C600.48,319.78 602.54,306.75 603.75,305.34C604.96,303.94 605.56,313.33 606.57,315.88C607.58,318.42 608.79,317.94 609.8,320.62C610.8,323.29 611.68,329.26 612.62,331.94C613.56,334.62 613.22,335.58 615.44,336.68C617.66,337.78 621.65,338.04 625.92,338.52C630.2,339.01 636.79,339.05 641.11,339.58C645.44,340.1 645.82,341.11 651.86,341.68C657.91,342.25 673.14,342.78 677.4,343" fill="none" stroke="#800080" stroke-width="2.05" stroke-linejoin="round"/>
<path d="M408.6,343C432.34,343 526.63,342.96 551.06,343C575.5,343.04 552.09,342.74 555.23,343.26C558.37,343.79 565.11,345.33 569.88,346.16C574.65,346.99 579.94,347.7 583.86,348.27C587.78,348.84 591.25,348.71 593.4,349.58C595.55,350.46 595.77,351.51 596.76,353.53C597.75,355.55 598.15,357.18 599.31,361.7C600.48,366.22 602.54,379.25 603.75,380.66C604.96,382.06 605.56,372.67 606.57,370.12C607.58,367.58 608.79,368.06 609.8,365.38C610.8,362.71 611.68,356.74 612.62,354.06C613.56,351.38 613.22,350.42 615.44,349.32C617.66,348.22 621.65,347.96 625.92,347.48C630.2,346.99 636.79,346.95 641.11,346.42C645.44,345.9 645.82,344.89 651.86,344.32C657.91,343.75 673.14,343.22 677.4,343" fill="none" stroke="#800080" stroke-width="2.05" stroke-linejoin="round"/>
<path d="M408.6,343C432.34,343 526.63,343.09 551.06,343C575.5,342.91 552.09,343.18 555.23,342.47C558.37,341.77 565.11,340.02 569.88,338.79C574.65,337.56 580.7,336.5 583.86,335.1C587.02,333.7 587.04,331.06 588.83,330.36C590.62,329.66 593.06,330.32 594.61,330.89C596.16,331.46 596.51,333.61 598.1,333.78C599.69,333.96 602.58,331.63 604.15,331.94C605.72,332.25 605.83,335.01 607.51,335.63C609.19,336.24 612.37,336.5 614.23,335.63C616.09,334.75 617.32,330.45 618.67,330.36C620.01,330.27 620.35,334.09 622.3,335.1C624.24,336.11 627.56,336.15 630.36,336.42C633.16,336.68 636.41,336.2 639.1,336.68C641.78,337.16 642.79,338.48 646.49,339.31C650.18,340.15 656.12,341.07 661.27,341.68C666.42,342.3 674.71,342.78 677.4,343" fill="none" stroke="#ffa500" stroke-width="2.05" stroke-linejoin="round"/>
<path d="M408.6,343C432.34,343 526.63,342.91 551.06,343C575.5,343.09 552.09,342.82 555.23,343.53C558.37,344.23 565.11,345.98 569.88,347.21C574.65,348.44 580.7,349.5 583.86,350.9C587.02,352.3 587.04,354.94 588.83,355.64C590.62,356.34 593.06,355.68 594.61,355.11C596.16,354.54 596.51,352.39 598.1,352.22C599.69,352.04 602.58,354.37 604.15,354.06C605.72,353.75 605.83,350.99 607.51,350.37C609.19,349.76 612.37,349.5 614.23,350.37C616.09,351.25 617.32,355.55 618.67,355.64C620.01,355.73 620.35,351.91 622.3,350.9C624.24,349.89 627.56,349.85 630.36,349.58C633.16,349.32 636.41,349.8 639.1,349.32C641.78,348.84 642.79,347.52 646.49,346.69C650.18,345.85 656.12,344.93 661.27,344.32C666.42,343.7 674.71,343.22 677.4,343" fill="none" stroke="#ffa500" stroke-width="2.05" stroke-linejoin="round"/>
<path d="M408.6,343C415.32,343 440.41,343.04 448.92,343C457.43,342.96 456.31,342.85 459.67,342.74C463.03,342.63 465.94,342.54 469.08,342.34C472.22,342.14 475.84,341.88 478.49,341.55C481.13,341.22 482.88,340.92 484.94,340.37C487,339.82 489.22,339.23 490.85,338.26C492.49,337.29 493.45,335.71 494.75,334.57C496.05,333.43 497.35,332.33 498.65,331.41C499.95,330.49 501.22,329.55 502.55,329.04C503.87,328.54 505.26,328.25 506.58,328.38C507.9,328.52 508.84,328.93 510.48,329.83C512.11,330.73 514.42,332.51 516.39,333.78C518.36,335.06 520.33,336.37 522.3,337.47C524.27,338.57 526.24,339.62 528.22,340.37C530.19,341.11 531.67,341.6 534.13,341.95C536.59,342.3 540.63,342.39 543,342.47C545.37,342.56 547.03,342.52 548.38,342.47C549.72,342.43 550.24,342.43 551.06,342.21C551.89,341.99 551.96,342.25 553.35,341.16C554.74,340.06 557.38,337.47 559.4,335.63C561.41,333.78 563.41,331.72 565.44,330.1C567.48,328.47 569.59,326.98 571.63,325.88C573.67,324.79 575.64,324.39 577.68,323.51C579.71,322.64 582.45,321.58 583.86,320.62C585.27,319.65 585.2,318.99 586.14,317.72C587.08,316.45 588.25,313.42 589.5,312.98C590.76,312.54 592.35,315.26 593.67,315.09C594.99,314.91 596.33,314.47 597.43,311.93C598.53,309.38 599.25,304.38 600.25,299.81C601.26,295.25 602.52,284.89 603.48,284.54C604.44,284.19 604.98,294.55 606.03,297.71C607.09,300.87 608.7,300.95 609.8,303.5C610.89,306.05 611.68,310.43 612.62,312.98C613.56,315.53 614.5,318.6 615.44,318.77C616.38,318.95 617.14,314.21 618.26,314.03C619.38,313.86 620.88,317.11 622.16,317.72C623.44,318.33 624.36,318.16 625.92,317.72C627.49,317.28 629.51,315.26 631.57,315.09C633.63,314.91 636.39,315.61 638.29,316.67C640.19,317.72 641.43,319.34 642.99,321.41C644.56,323.47 645.79,326.98 647.7,329.04C649.6,331.11 651.71,332.29 654.42,333.78C657.13,335.28 661.25,336.99 663.96,338C666.67,339.01 668.44,339.34 670.68,339.84C672.92,340.34 676.28,340.83 677.4,341.02" fill="none" stroke="#008000" stroke-width="2.05" stroke-linejoin="round"/>
<path d="M408.6,343C415.32,343 440.41,342.96 448.92,343C457.43,343.04 456.31,343.15 459.67,343.26C463.03,343.37 465.94,343.46 469.08,343.66C472.22,343.86 475.84,344.12 478.49,344.45C481.13,344.78 482.88,345.08 484.94,345.63C487,346.18 489.22,346.77 490.85,347.74C492.49,348.71 493.45,350.29 494.75,351.43C496.05,352.57 497.35,353.66 498.65,354.59C499.95,355.51 501.22,356.45 502.55,356.96C503.87,357.46 505.26,357.75 506.58,357.62C507.9,357.48 508.84,357.07 510.48,356.17C512.11,355.27 514.42,353.49 516.39,352.22C518.36,350.94 520.33,349.63 522.3,348.53C524.27,347.43 526.24,346.38 528.22,345.63C530.19,344.89 531.67,344.4 534.13,344.05C536.59,343.7 540.63,343.61 543,343.53C545.37,343.44 547.03,343.48 548.38,343.53C549.72,343.57 550.24,343.57 551.06,343.79C551.89,344.01 551.96,343.75 553.35,344.84C554.74,345.94 557.38,348.53 559.4,350.37C561.41,352.22 563.41,354.28 565.44,355.9C567.48,357.53 569.59,359.02 571.63,360.12C573.67,361.21 575.64,361.61 577.68,362.49C579.71,363.36 582.45,364.42 583.86,365.38C585.27,366.35 585.2,367.01 586.14,368.28C587.08,369.55 588.25,372.58 589.5,373.02C590.76,373.46 592.35,370.74 593.67,370.91C594.99,371.09 596.33,371.53 597.43,374.07C598.53,376.62 599.25,381.62 600.25,386.19C601.26,390.75 602.52,401.11 603.48,401.46C604.44,401.81 604.98,391.45 606.03,388.29C607.09,385.13 608.7,385.05 609.8,382.5C610.89,379.95 611.68,375.57 612.62,373.02C613.56,370.47 614.5,367.4 615.44,367.23C616.38,367.05 617.14,371.79 618.26,371.97C619.38,372.14 620.88,368.89 622.16,368.28C623.44,367.67 624.36,367.84 625.92,368.28C627.49,368.72 629.51,370.74 631.57,370.91C633.63,371.09 636.39,370.39 638.29,369.33C640.19,368.28 641.43,366.66 642.99,364.59C644.56,362.53 645.79,359.02 647.7,356.96C649.6,354.89 651.71,353.71 654.42,352.22C657.13,350.72 661.25,349.01 663.96,348C666.67,346.99 668.44,346.66 670.68,346.16C672.92,345.66 676.28,345.17 677.4,344.98" fill="none" stroke="#008000" stroke-width="2.05" stroke-linejoin="round"/>
</g></svg>
<rect x="408.6" y="264" width="268.8" height="158" fill="none" stroke="#000" stroke-width="2.6"/>
<text x="407.4" y="439" font-size="20" text-anchor="middle" fill="#3a3a3a" font-family='"Liberation Serif", serif' >-10</text>
<text x="434.28" y="439" font-size="20" text-anchor="middle" fill="#3a3a3a" font-family='"Liberation Serif", serif' >-8</text>
<text x="461.16" y="439" font-size="20" text-anchor="middle" fill="#3a3a3a" font-family='"Liberation Serif", serif' >-6</text>
<text x="488.04" y="439" font-size="20" text-anchor="middle" fill="#3a3a3a" font-family='"Liberation Serif", serif' >-4</text>
<text x="514.92" y="439" font-size="20" text-anchor="middle" fill="#3a3a3a" font-family='"Liberation Serif", serif' >-2</text>
<text x="543" y="439" font-size="20" text-anchor="middle" fill="#3a3a3a" font-family='"Liberation Serif", serif' >0</text>
<text x="569.88" y="439" font-size="20" text-anchor="middle" fill="#3a3a3a" font-family='"Liberation Serif", serif' >2</text>
<text x="596.76" y="439" font-size="20" text-anchor="middle" fill="#3a3a3a" font-family='"Liberation Serif", serif' >4</text>
<text x="623.64" y="439" font-size="20" text-anchor="middle" fill="#3a3a3a" font-family='"Liberation Serif", serif' >6</text>
<text x="650.52" y="439" font-size="20" text-anchor="middle" fill="#3a3a3a" font-family='"Liberation Serif", serif' >8</text>
<text x="677.4" y="439" font-size="20" text-anchor="middle" fill="#3a3a3a" font-family='"Liberation Serif", serif' >10</text>
<text x="406.1" y="430" font-size="20" text-anchor="end" fill="#3a3a3a" font-family='"Liberation Serif", serif' >-3</text>
<text x="406.1" y="403.67" font-size="20" text-anchor="end" fill="#3a3a3a" font-family='"Liberation Serif", serif' >-2</text>
<text x="406.1" y="377.33" font-size="20" text-anchor="end" fill="#3a3a3a" font-family='"Liberation Serif", serif' >-1</text>
<text x="406.1" y="351" font-size="20" text-anchor="end" fill="#3a3a3a" font-family='"Liberation Serif", serif' >0</text>
<text x="406.1" y="324.67" font-size="20" text-anchor="end" fill="#3a3a3a" font-family='"Liberation Serif", serif' >1</text>
<text x="406.1" y="298.33" font-size="20" text-anchor="end" fill="#3a3a3a" font-family='"Liberation Serif", serif' >2</text>
<text x="406.1" y="272" font-size="20" text-anchor="end" fill="#3a3a3a" font-family='"Liberation Serif", serif' >3</text>
<text x="517" y="461.3" font-size="21" text-anchor="start" fill="#3a3a3a" font-family='"Liberation Serif", serif' font-style="italic">ω</text>
<text x="531.4" y="461.3" font-size="21" text-anchor="start" fill="#3a3a3a" font-family='"Liberation Serif", serif' ><tspan letter-spacing="-0.9">(eV</tspan>)</text>
<rect x="72.9" y="276" width="80.4" height="50" fill="#fff"/>
<svg x="72.9" y="276" width="80.4" height="50" overflow="hidden">
<g transform="translate(-72.9,-276)">
<path d="M72.9,301C75.41,301 85.06,301.12 87.98,301C90.89,300.88 89.48,301 90.39,300.25C91.29,299.5 92.63,297.92 93.4,296.5C94.17,295.08 94.54,292.83 95.01,291.75C95.48,290.67 95.73,289.75 96.22,290C96.7,290.25 97.33,292.33 97.92,293.25C98.52,294.17 99.22,295.38 99.78,295.5C100.34,295.62 100.85,296.92 101.29,294C101.74,291.08 102.13,277.5 102.45,278C102.77,278.5 102.93,293.29 103.2,297C103.47,300.71 103.66,299.58 104.06,300.25C104.45,300.92 102.55,300.88 105.56,301C108.58,301.12 118.96,301.12 122.15,301C125.33,300.88 123.82,300.33 124.66,300.25C125.5,300.17 126.17,300.38 127.17,300.5C128.18,300.62 126.33,300.92 130.69,301C135.04,301.08 149.53,301 153.3,301V301H72.9Z" fill="#fa8072"/>
<path d="M72.9,301C77.67,301 96.6,300.79 101.54,301C106.48,301.21 102.19,301.5 102.55,302.25C102.91,303 103.2,304.96 103.7,305.5C104.21,306.04 104.47,305.25 105.56,305.5C106.65,305.75 108.69,306.5 110.24,307C111.78,307.5 113.66,308.5 114.81,308.5C115.96,308.5 116.23,307.88 117.12,307C118.01,306.12 118.74,304.17 120.14,303.25C121.53,302.33 124.17,301.88 125.51,301.5C126.85,301.12 123.54,301.08 128.18,301C132.81,300.92 149.11,301 153.3,301V301H72.9Z" fill="#fa8072"/>
<path d="M72.9,301C75.41,301 85.06,301.12 87.98,301C90.89,300.88 89.48,301 90.39,300.25C91.29,299.5 92.63,297.92 93.4,296.5C94.17,295.08 94.54,292.83 95.01,291.75C95.48,290.67 95.73,289.75 96.22,290C96.7,290.25 97.33,292.33 97.92,293.25C98.52,294.17 99.22,295.38 99.78,295.5C100.34,295.62 100.85,296.92 101.29,294C101.74,291.08 102.13,277.5 102.45,278C102.77,278.5 102.93,293.29 103.2,297C103.47,300.71 103.66,299.58 104.06,300.25C104.45,300.92 102.55,300.88 105.56,301C108.58,301.12 118.96,301.12 122.15,301C125.33,300.88 123.82,300.33 124.66,300.25C125.5,300.17 126.17,300.38 127.17,300.5C128.18,300.62 126.33,300.92 130.69,301C135.04,301.08 149.53,301 153.3,301" fill="none" stroke="#f00" stroke-width="1.2"/>
<path d="M72.9,301C77.67,301 96.6,300.79 101.54,301C106.48,301.21 102.19,301.5 102.55,302.25C102.91,303 103.2,304.96 103.7,305.5C104.21,306.04 104.47,305.25 105.56,305.5C106.65,305.75 108.69,306.5 110.24,307C111.78,307.5 113.66,308.5 114.81,308.5C115.96,308.5 116.23,307.88 117.12,307C118.01,306.12 118.74,304.17 120.14,303.25C121.53,302.33 124.17,301.88 125.51,301.5C126.85,301.12 123.54,301.08 128.18,301C132.81,300.92 149.11,301 153.3,301" fill="none" stroke="#f00" stroke-width="1.2"/>
<path d="M72.9,301H153.3" stroke="#222" stroke-width="1.5" stroke-dasharray="2.6,1.1"/>
<path d="M103.05,276V326" stroke="#444" stroke-width="1.2" stroke-dasharray="3,1.8"/>
</g></svg>
<rect x="72.9" y="276" width="80.4" height="50" fill="none" stroke="#000" stroke-width="1.6"/>
<text x="67.9" y="281" font-size="12.5" text-anchor="end" fill="#3a3a3a" font-family='"Liberation Serif", serif' >1</text>
<text x="69.9" y="305.5" font-size="12.5" text-anchor="end" fill="#3a3a3a" font-family='"Liberation Serif", serif' >0</text>
<text x="69.9" y="330.5" font-size="12.5" text-anchor="end" fill="#3a3a3a" font-family='"Liberation Serif", serif' >-1</text>
<text x="72.9" y="337.5" font-size="12.5" text-anchor="middle" fill="#3a3a3a" font-family='"Liberation Serif", serif' >-6</text>
<text x="102.25" y="337.5" font-size="12.5" text-anchor="middle" fill="#3a3a3a" font-family='"Liberation Serif", serif' >0</text>
<text x="152.5" y="337.5" font-size="12.5" text-anchor="middle" fill="#3a3a3a" font-family='"Liberation Serif", serif' >10</text>
<rect x="428" y="276" width="80.2" height="50" fill="#fff"/>
<svg x="428" y="276" width="80.2" height="50" overflow="hidden">
<g transform="translate(-428,-276)">
<path d="M428,301C429.17,301 433.42,301.38 435.02,301C436.61,300.62 436.64,300.17 437.57,298.75C438.51,297.33 439.56,294.38 440.63,292.5C441.7,290.62 442.97,287.75 443.99,287.5C445.01,287.25 445.77,289.5 446.75,291C447.72,292.5 448.7,294.96 449.85,296.5C451.01,298.04 452.54,299.5 453.66,300.25C454.78,301 447.48,300.88 456.57,301C465.66,301.12 499.6,301 508.2,301V301H428Z" fill="#fa8072"/>
<path d="M428,301C434.68,301 460.87,300.88 468.1,301C475.33,301.12 469.33,301.33 471.41,301.75C473.49,302.17 478.03,302.88 480.58,303.5C483.13,304.12 485.17,304.67 486.7,305.5C488.23,306.33 488.78,307.42 489.75,308.5C490.72,309.58 491.62,312 492.51,312C493.4,312 494.18,309.96 495.12,308.5C496.05,307.04 497.03,304.38 498.12,303.25C499.22,302.12 500.42,302.12 501.68,301.75C502.95,301.38 504.61,301.12 505.69,301C506.78,300.88 507.78,301 508.2,301V301H428Z" fill="#fa8072"/>
<path d="M428,301C429.17,301 433.42,301.38 435.02,301C436.61,300.62 436.64,300.17 437.57,298.75C438.51,297.33 439.56,294.38 440.63,292.5C441.7,290.62 442.97,287.75 443.99,287.5C445.01,287.25 445.77,289.5 446.75,291C447.72,292.5 448.7,294.96 449.85,296.5C451.01,298.04 452.54,299.5 453.66,300.25C454.78,301 447.48,300.88 456.57,301C465.66,301.12 499.6,301 508.2,301" fill="none" stroke="#f00" stroke-width="1.2"/>
<path d="M428,301C434.68,301 460.87,300.88 468.1,301C475.33,301.12 469.33,301.33 471.41,301.75C473.49,302.17 478.03,302.88 480.58,303.5C483.13,304.12 485.17,304.67 486.7,305.5C488.23,306.33 488.78,307.42 489.75,308.5C490.72,309.58 491.62,312 492.51,312C493.4,312 494.18,309.96 495.12,308.5C496.05,307.04 497.03,304.38 498.12,303.25C499.22,302.12 500.42,302.12 501.68,301.75C502.95,301.38 504.61,301.12 505.69,301C506.78,300.88 507.78,301 508.2,301" fill="none" stroke="#f00" stroke-width="1.2"/>
<path d="M428,301H508.2" stroke="#222" stroke-width="1.5" stroke-dasharray="2.6,1.1"/>
<path d="M458.07,276V326" stroke="#444" stroke-width="1.2" stroke-dasharray="3,1.8"/>
</g></svg>
<rect x="428" y="276" width="80.2" height="50" fill="none" stroke="#000" stroke-width="1.6"/>
<text x="423" y="281" font-size="12.5" text-anchor="end" fill="#3a3a3a" font-family='"Liberation Serif", serif' >1</text>
<text x="425" y="305.5" font-size="12.5" text-anchor="end" fill="#3a3a3a" font-family='"Liberation Serif", serif' >0</text>
<text x="425" y="330.5" font-size="12.5" text-anchor="end" fill="#3a3a3a" font-family='"Liberation Serif", serif' >-1</text>
<text x="428" y="337.5" font-size="12.5" text-anchor="middle" fill="#3a3a3a" font-family='"Liberation Serif", serif' >-6</text>
<text x="457.27" y="337.5" font-size="12.5" text-anchor="middle" fill="#3a3a3a" font-family='"Liberation Serif", serif' >0</text>
<text x="507.4" y="337.5" font-size="12.5" text-anchor="middle" fill="#3a3a3a" font-family='"Liberation Serif", serif' >10</text>
<text x="106" y="290.2" font-size="9.5" text-anchor="start" fill="#3a3a3a" font-family='"Liberation Serif", serif' >Ni1 <tspan font-style="italic">d</tspan><tspan font-style="italic" font-size="7" dy="2">x²−y²</tspan></text>
<path d="M63.6,364.1h7.3" stroke="#f00" stroke-width="2"/>
<path d="M63.6,383.3h7.3" stroke="#00f" stroke-width="2"/>
<path d="M63.6,402.3h7.3" stroke="#800080" stroke-width="2"/>
<text x="80.2" y="366.6" font-size="14" text-anchor="start" fill="#3a3a3a" font-family='"Liberation Serif", serif' >Ni <tspan font-style="italic">d</tspan><tspan font-style="italic" font-size="10" dy="3">x²−y²</tspan></text>
<text x="80.2" y="386" font-size="14" text-anchor="start" fill="#3a3a3a" font-family='"Liberation Serif", serif' >Nd <tspan font-style="italic">d</tspan><tspan font-style="italic" font-size="10" dy="3">3z²−r²</tspan></text>
<text x="80.2" y="405.4" font-size="14" text-anchor="start" fill="#3a3a3a" font-family='"Liberation Serif", serif' >Nd <tspan font-style="italic">d</tspan><tspan font-style="italic" font-size="10" dy="3">xy</tspan></text>
<path d="M228.8,384.1h6.8" stroke="#ffa500" stroke-width="2"/>
<path d="M228.8,402.6h6.8" stroke="#008000" stroke-width="2"/>
<text x="245.4" y="389.5" font-size="13.4" text-anchor="start" fill="#3a3a3a" font-family='"Liberation Serif", serif' >interstitial <tspan font-style="italic">s</tspan></text>
<text x="245.5" y="407.6" font-size="13.4" text-anchor="start" fill="#3a3a3a" font-family='"Liberation Serif", serif' >total</text>
<text x="140.5" y="256.4" font-size="21" text-anchor="start" fill="#3a3a3a" font-family='"Liberation Serif", serif' font-style="italic">U</text>
<text x="155.2" y="259.5" font-size="14.5" text-anchor="start" fill="#3a3a3a" font-family='"Liberation Serif", serif' >Ni</text>
<text x="195.5" y="256.4" font-size="21" text-anchor="start" fill="#3a3a3a" font-family='"Liberation Serif", serif' >3</text>
<text x="208.2" y="256.4" font-size="21" text-anchor="start" fill="#3a3a3a" font-family='"Liberation Serif", serif' >eV</text>
<path d="M175.1,248.1h13.2M175.1,253.1h13.2" stroke="#3a3a3a" stroke-width="1.1"/>
<text x="496.1" y="256.4" font-size="21" text-anchor="start" fill="#3a3a3a" font-family='"Liberation Serif", serif' font-style="italic">U</text>
<text x="510.8" y="259.5" font-size="14.5" text-anchor="start" fill="#3a3a3a" font-family='"Liberation Serif", serif' >Ni</text>
<text x="551.1" y="256.4" font-size="21" text-anchor="start" fill="#3a3a3a" font-family='"Liberation Serif", serif' >9</text>
<text x="563.8" y="256.4" font-size="21" text-anchor="start" fill="#3a3a3a" font-family='"Liberation Serif", serif' >eV</text>
<path d="M530.7,248.1h13.2M530.7,253.1h13.2" stroke="#3a3a3a" stroke-width="1.1"/>
<text x="41.9" y="250.8" font-size="27" text-anchor="middle" fill="#111" font-family='"Liberation Serif", serif' font-weight="bold">(b)</text>
<text x="395.9" y="250.8" font-size="27" text-anchor="middle" fill="#111" font-family='"Liberation Serif", serif' font-weight="bold">(c)</text>
<g transform="translate(25.3,0) rotate(-90)" fill="#3a3a3a" font-family='"Liberation Serif", serif'>
<text x="-391.5" y="0" font-size="21" font-style="italic">A</text>
<text x="-378.8" y="0" font-size="21">(</text>
<text x="-370" y="0" font-size="21" font-style="italic">ω</text>
<text x="-357.5" y="0" font-size="21">)(eV</text>
<text x="-318.5" y="-7" font-size="14.5">−1</text>
<text x="-302.5" y="0" font-size="21">)</text>
</g>
<g transform="translate(381.1,0) rotate(-90)" fill="#3a3a3a" font-family='"Liberation Serif", serif'>
<text x="-391.5" y="0" font-size="21" font-style="italic">A</text>
<text x="-378.8" y="0" font-size="21">(</text>
<text x="-370" y="0" font-size="21" font-style="italic">ω</text>
<text x="-357.5" y="0" font-size="21">)(eV</text>
<text x="-318.5" y="-7" font-size="14.5">−1</text>
<text x="-302.5" y="0" font-size="21">)</text>
</g>
</svg></body></html>
